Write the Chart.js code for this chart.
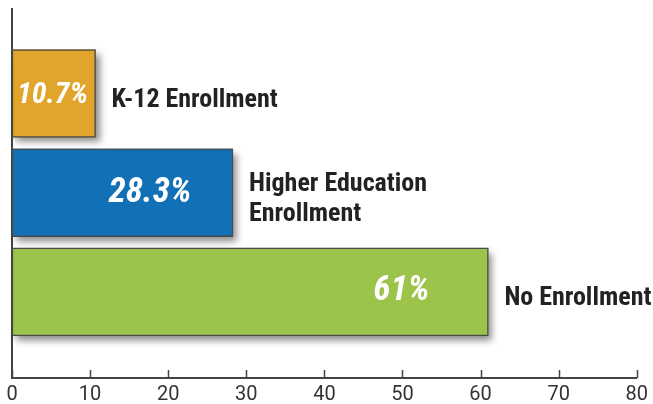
<!DOCTYPE html>
<html>
<head>
<meta charset="utf-8">
<script src="https://cdn.jsdelivr.net/npm/chart.js@4"></script>
<style>
html,body{margin:0;padding:0;background:#fff;}
canvas{display:block;}
</style>
</head>
<body>
<canvas id="c" width="653" height="404"></canvas>
<script>
const categories = [["K-12 Enrollment"], ["Higher Education", "Enrollment"], ["No Enrollment"]];
const values = [10.7, 28.3, 61];
const valueLabels = ["10.7%", "28.3%", "61%"];
const xTicks = [0, 10, 20, 30, 40, 50, 60, 70, 80];
const barColors = ["#E1A52B", "#1270B7", "#9CC44B"];

const NARROW = "'Liberation Sans Narrow', 'Roboto Condensed', 'DejaVu Sans Condensed', Roboto, sans-serif";

const decorPlugin = {
  id: 'decor',
  beforeDatasetsDraw(chart) {
    const ctx = chart.ctx;
    const meta = chart.getDatasetMeta(0);
    ctx.save();
    meta.data.forEach((bar, i) => {
      const left = Math.min(bar.base, bar.x), right = Math.max(bar.base, bar.x);
      const top = bar.y - bar.height / 2;
      ctx.shadowColor = 'rgba(0,0,0,0.45)';
      ctx.shadowBlur = 7;
      ctx.shadowOffsetX = 4;
      ctx.shadowOffsetY = 5;
      ctx.fillStyle = barColors[i];
      ctx.fillRect(left, top, right - left, bar.height);
    });
    ctx.restore();
  },
  afterDraw(chart, args, opts) {
    const ctx = chart.ctx;
    const meta = chart.getDatasetMeta(0);
    const xs = chart.scales.x;
    const area = chart.chartArea;
    ctx.save();
    ctx.strokeStyle = '#444';
    ctx.lineWidth = 1.5;
    xTicks.forEach(v => {
      const px = Math.round(xs.getPixelForValue(v)) + 0.5;
      ctx.beginPath();
      ctx.moveTo(px, area.bottom);
      ctx.lineTo(px, area.bottom - 8);
      ctx.stroke();
    });
    meta.data.forEach((bar, i) => {
      const big = values[i] > 20;
      ctx.font = 'italic bold ' + (big ? 35 : 30) + 'px ' + NARROW;
      ctx.fillStyle = '#ffffff';
      ctx.textAlign = 'center';
      ctx.textBaseline = 'middle';
      ctx.fillText(valueLabels[i], bar.x - opts.valueOffsets[i], bar.y + opts.valueDy[i]);
      ctx.font = 'bold 26px ' + NARROW;
      ctx.fillStyle = '#222222';
      ctx.textAlign = 'left';
      const lines = categories[i];
      const lh = 30;
      const y0 = bar.y + 7 - (lines.length - 1) * lh / 2;
      lines.forEach((t, k) => ctx.fillText(t, bar.x + 16, y0 + k * lh));
    });
    ctx.restore();
  }
};

new Chart(document.getElementById('c'), {
  type: 'bar',
  data: {
    datasets: [{
      data: values.map((v, i) => ({ x: v, y: i + 1 })),
      backgroundColor: barColors,
      borderColor: '#4a4a4a',
      borderWidth: 1.5,
      borderSkipped: false,
      barThickness: 88
    }]
  },
  options: {
    indexAxis: 'y',
    responsive: false,
    animation: false,
    devicePixelRatio: 1,
    layout: { padding: { top: 9, left: 12, right: 16, bottom: 0 } },
    plugins: {
      legend: { display: false },
      tooltip: { enabled: false },
      decor: { valueOffsets: [43, 83, 87], valueDy: [2, 1, -1] }
    },
    scales: {
      x: {
        type: 'linear',
        min: 0, max: 80,
        offset: false,
        afterBuildTicks(scale) { scale.ticks = xTicks.map(v => ({ value: v })); },
        afterFit(scale) { scale.height = 26; },
        grid: { display: false, drawTicks: false },
        border: { display: true, color: '#444', width: 2 },
        ticks: {
          padding: 5,
          color: '#333',
          font: { family: 'Roboto', size: 20 }
        }
      },
      y: {
        type: 'linear',
        reverse: true,
        offset: false,
        min: 0.149, max: 3.867,
        afterFit(scale) { scale.width = 0; },
        grid: { display: false, drawTicks: false },
        border: { display: true, color: '#444', width: 2 },
        ticks: { display: false }
      }
    }
  },
  plugins: [decorPlugin]
});
</script>
</body>
</html>
